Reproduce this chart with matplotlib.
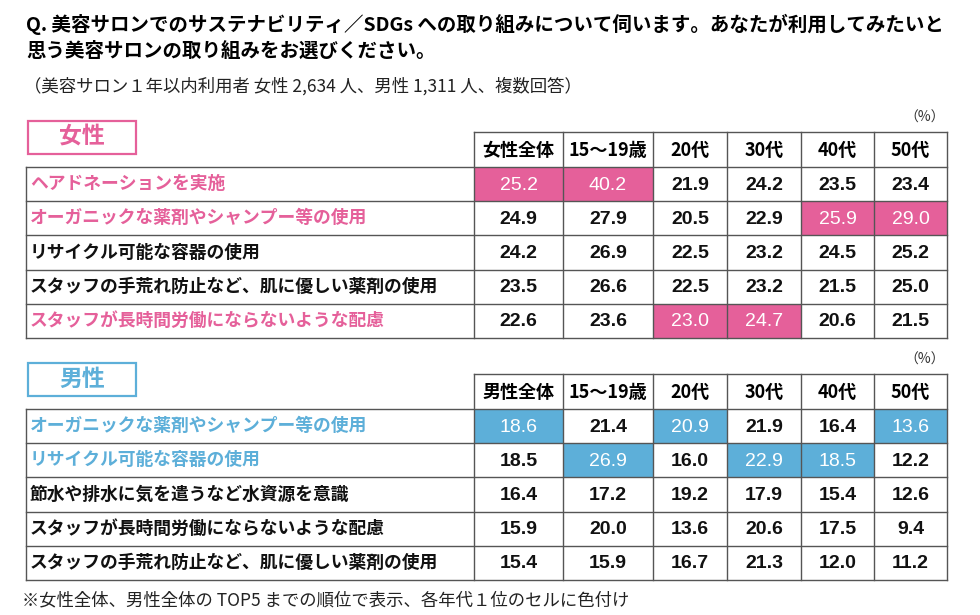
import matplotlib
matplotlib.use("Agg")
import matplotlib.pyplot as plt
from matplotlib.patches import Rectangle
import numpy as np

plt.rcParams['font.family'] = ['Noto Sans CJK JP', 'DejaVu Sans']

# data
title_lines = ['Q. 美容サロンでのサステナビリティ／SDGs への取り組みについて伺います。あなたが利用してみたいと',
               '思う美容サロンの取り組みをお選びください。']
subtitle = '（美容サロン１年以内利用者 女性 2,634 人、男性 1,311 人、複数回答）'
footnote = '※女性全体、男性全体の TOP5 までの順位で表示、各年代１位のセルに色付け'

age_cols = ['15～19歳', '20代', '30代', '40代', '50代']

female_items = ['ヘアドネーションを実施',
                'オーガニックな薬剤やシャンプー等の使用',
                'リサイクル可能な容器の使用',
                'スタッフの手荒れ防止など、肌に優しい薬剤の使用',
                'スタッフが長時間労働にならないような配慮']
female_vals = [[25.2, 40.2, 21.9, 24.2, 23.5, 23.4],
               [24.9, 27.9, 20.5, 22.9, 25.9, 29.0],
               [24.2, 26.9, 22.5, 23.2, 24.5, 25.2],
               [23.5, 26.6, 22.5, 23.2, 21.5, 25.0],
               [22.6, 23.6, 23.0, 24.7, 20.6, 21.5]]

male_items = ['オーガニックな薬剤やシャンプー等の使用',
              'リサイクル可能な容器の使用',
              '節水や排水に気を遣うなど水資源を意識',
              'スタッフが長時間労働にならないような配慮',
              'スタッフの手荒れ防止など、肌に優しい薬剤の使用']
male_vals = [[18.6, 21.4, 20.9, 21.9, 16.4, 13.6],
             [18.5, 26.9, 16.0, 22.9, 18.5, 12.2],
             [16.4, 17.2, 19.2, 17.9, 15.4, 12.6],
             [15.9, 20.0, 13.6, 20.6, 17.5, 9.4],
             [15.4, 15.9, 16.7, 21.3, 12.0, 11.2]]

PINK = '#E5609A'
BLUE = '#5DAFD9'
LINE = '#555555'

fig = plt.figure(figsize=(9.8, 6.15), dpi=100)
ax = fig.add_axes([0, 0, 1, 1])
ax.set_xlim(0, 980)
ax.set_ylim(615, 0)
ax.axis('off')

ax.text(26, 24, title_lines[0], fontsize=14, fontweight='bold', va='center', ha='left')
ax.text(26, 51, title_lines[1], fontsize=14, fontweight='bold', va='center', ha='left')
ax.text(24, 86, subtitle, fontsize=12.5, va='center', ha='left', color='#222222')

label_x0 = 26
col_edges = np.array([474, 563, 653, 727, 801, 874, 947])
num_font = ['Liberation Sans', 'Noto Sans CJK JP']


def draw_block(top, sex_label, total_label, items, vals, color):
    vals = np.array(vals)
    head_h = 35
    row_h = 34.2
    # section tag
    ax.add_patch(Rectangle((28, top - 11), 108, 33, fill=False, edgecolor=color, lw=1.6))
    ax.text(82, top + 5, sex_label, color=color, fontsize=16.5, fontweight='bold',
            ha='center', va='center')
    ax.text(col_edges[-1] - 2, top - 14, '（%）', fontsize=10, ha='right', va='center', color='#333333')
    # header
    cols = [total_label] + age_cols
    header_bottom = top + head_h
    for j, c in enumerate(cols):
        x0, x1 = col_edges[j], col_edges[j + 1]
        ax.text((x0 + x1) / 2, top + head_h / 2 + 1, c, fontsize=13, fontweight='bold',
                ha='center', va='center')
    ax.plot([col_edges[0], col_edges[-1]], [top, top], color=LINE, lw=1)
    for x in col_edges:
        ax.plot([x, x], [top, header_bottom + row_h * len(items)], color=LINE, lw=1)
    ax.plot([label_x0, label_x0], [header_bottom, header_bottom + row_h * len(items)], color=LINE, lw=1)
    best = vals.argmax(axis=0)
    for i, item in enumerate(items):
        y0 = header_bottom + row_h * i
        ax.plot([label_x0, col_edges[-1]], [y0, y0], color=LINE, lw=1)
        hot = (best == i)
        ax.text(label_x0 + 4, y0 + row_h / 2, item, fontsize=12.8, fontweight='bold',
                color=color if hot.any() else '#111111', ha='left', va='center')
        for j in range(vals.shape[1]):
            x0, x1 = col_edges[j], col_edges[j + 1]
            if hot[j]:
                ax.add_patch(Rectangle((x0, y0), x1 - x0, row_h, facecolor=color,
                                       edgecolor='none', zorder=0))
            ax.text((x0 + x1) / 2, y0 + row_h / 2 + 1, f'{vals[i, j]:.1f}',
                    family=num_font, fontsize=14, fontweight='bold' if not hot[j] else 'normal',
                    color='white' if hot[j] else '#111111', ha='center', va='center')
    yb = header_bottom + row_h * len(items)
    ax.plot([label_x0, col_edges[-1]], [yb, yb], color=LINE, lw=1)


draw_block(132, '女性', '女性全体', female_items, female_vals, PINK)
draw_block(374, '男性', '男性全体', male_items, male_vals, BLUE)

ax.text(22, 600, footnote, fontsize=12.5, ha='left', va='center', color='#222222')

fig.savefig('out.png', dpi=100)
